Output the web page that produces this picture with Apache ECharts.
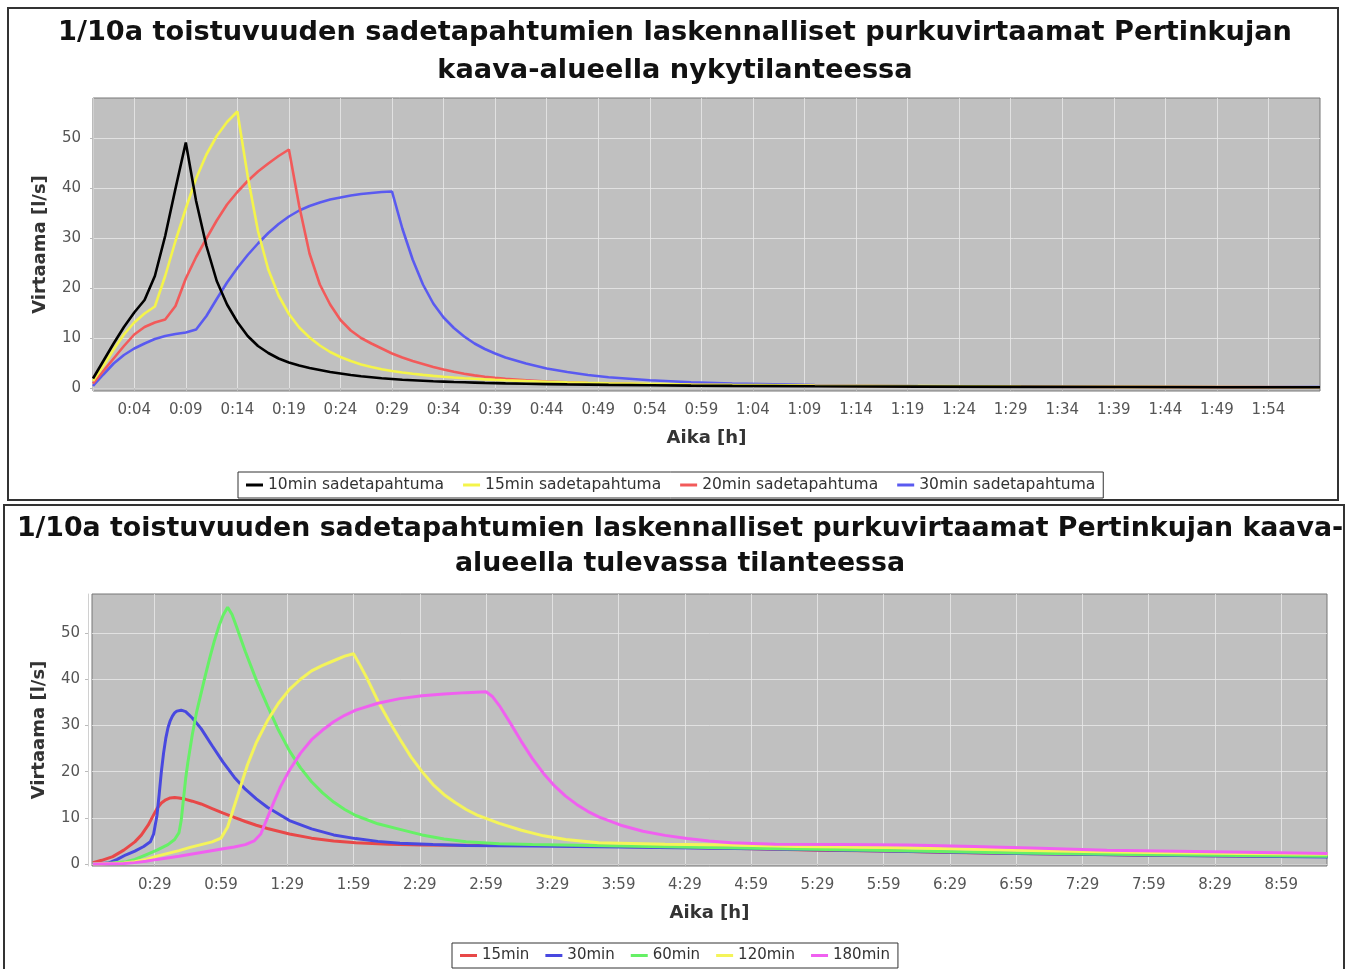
<!DOCTYPE html>
<html>
<head>
<meta charset="utf-8">
<script src="https://cdn.jsdelivr.net/npm/echarts@6.0.0/dist/echarts.min.js"></script>
<style>
  html, body { margin: 0; padding: 0; background: #ffffff; }
  #chart { width: 1349px; height: 969px; }
</style>
</head>
<body>
<div id="chart"></div>
<script>
// ---------- Top chart: nykytilanne (time in minutes) ----------
const topTitle = '1/10a toistuvuuden sadetapahtumien laskennalliset purkuvirtaamat Pertinkujan\nkaava-alueella nykytilanteessa';
const topNames = ['10min sadetapahtuma', '15min sadetapahtuma', '20min sadetapahtuma', '30min sadetapahtuma'];
const topTimes = [0,1,2,3,4,5,6,7,8,9,10,11,12,13,14,15,16,17,18,19,20,21,22,23,24,25,26,27,28,29,30,31,32,33,34,35,36,37,38,39,40,42,44,46,48,50,54,58,62,70,80,90,100,110,119];
const top10 = [2.0,5.5,9.0,12.3,15.2,17.7,22.5,30.5,40.0,49.2,37.5,28.5,21.5,16.8,13.3,10.5,8.5,7.1,6.0,5.2,4.6,4.1,3.7,3.3,3.0,2.7,2.45,2.25,2.05,1.9,1.75,1.65,1.55,1.45,1.38,1.3,1.24,1.18,1.12,1.07,1.02,0.95,0.88,0.82,0.77,0.72,0.65,0.58,0.53,0.45,0.38,0.33,0.29,0.26,0.24];
const top15 = [1.5,4.5,7.8,10.8,13.2,15.0,16.4,22.5,29.5,36.0,42.0,46.8,50.5,53.3,55.4,42.5,31.5,23.8,18.6,14.9,12.2,10.2,8.6,7.3,6.3,5.5,4.8,4.3,3.85,3.5,3.2,2.95,2.72,2.52,2.35,2.2,2.06,1.94,1.83,1.73,1.64,1.48,1.35,1.24,1.14,1.06,0.92,0.81,0.72,0.58,0.47,0.39,0.33,0.29,0.26];
const top20 = [1.0,3.5,6.0,8.5,10.8,12.3,13.2,13.8,16.5,22.0,26.3,30.0,33.6,36.8,39.3,41.5,43.4,45.0,46.5,47.8,36.5,27.0,20.8,16.8,13.7,11.6,10.1,9.0,8.0,7.0,6.2,5.5,4.9,4.3,3.8,3.35,2.95,2.62,2.35,2.12,1.93,1.62,1.4,1.22,1.08,0.98,0.84,0.74,0.66,0.54,0.45,0.37,0.32,0.28,0.25];
const top30 = [0.5,2.8,5.0,6.7,8.0,9.0,9.9,10.5,10.9,11.2,11.8,14.5,17.9,21.2,24.1,26.7,29.0,31.1,32.9,34.4,35.6,36.5,37.2,37.8,38.2,38.6,38.9,39.1,39.3,39.4,32.0,25.8,20.8,17.0,14.2,12.1,10.4,9.0,7.9,7.0,6.2,5.0,4.0,3.3,2.7,2.25,1.65,1.25,0.98,0.68,0.5,0.4,0.34,0.3,0.27];
const topXTicks = [4,9,14,19,24,29,34,39,44,49,54,59,64,69,74,79,84,89,94,99,104,109,114];
const yTicks = [0,10,20,30,40,50];

// ---------- Bottom chart: tuleva tilanne (time in minutes) ----------
const botTitle = '1/10a toistuvuuden sadetapahtumien laskennalliset purkuvirtaamat Pertinkujan kaava-\nalueella tulevassa tilanteessa';
const botNames = ['15min', '30min', '60min', '120min', '180min'];
const t15 = [1,5,10,15,20,23,26,28,30,32,34,36,38,40,43,46,50,55,60,65,70,75,80,90,100,110,120,135,150,180,210,240,270,300,330,360,390,420,450,480,510,540,560];
const v15 = [0.3,0.8,1.6,3.0,4.8,6.3,8.4,10.2,12.0,13.2,13.9,14.3,14.4,14.3,14.0,13.6,13.0,12.0,11.0,10.1,9.2,8.4,7.7,6.5,5.6,5.0,4.6,4.3,4.1,4.0,4.0,3.8,3.6,3.3,3.0,2.8,2.5,2.3,2.1,1.9,1.8,1.7,1.6];
const t30 = [1,8,12,16,20,24,27,28.5,30,31,32,33,34,35,36,37,38,39,41,43,46,50,55,60,65,70,75,80,90,100,110,120,130,140,155,170,200,240,300,360,420,480,560];
const v30 = [0,0.2,1.0,2.0,2.8,3.8,4.8,6.5,10.5,15.0,20.0,24.0,27.2,29.5,31.0,32.0,32.7,33.1,33.3,33.0,31.6,29.3,25.6,22.0,18.8,16.2,14.1,12.3,9.4,7.6,6.3,5.5,4.9,4.5,4.2,4.0,3.9,3.7,3.3,2.8,2.3,1.9,1.5];
const t60 = [1,10,16,20,25,30,35,38,40,41,42,43,44,46,48,50,52,54,56,58,60,62,64,66,68,70,75,80,85,90,95,100,105,110,115,120,130,140,150,160,170,185,200,240,300,360,420,480,560];
const v60 = [0,0.2,0.5,1.0,2.0,3.0,4.2,5.3,6.8,9.5,14.0,18.5,22.0,28.0,33.0,37.0,41.0,44.8,48.3,51.4,53.9,55.6,54.0,51.4,48.7,46.0,39.8,34.3,29.0,24.5,20.8,17.8,15.4,13.4,11.8,10.5,8.7,7.5,6.3,5.4,4.8,4.4,4.2,3.9,3.4,2.9,2.4,2.0,1.7];
const t120 = [1,15,20,25,30,35,40,45,50,55,59,62,65,68,71,75,80,85,90,95,100,105,110,115,119,122,125,130,135,140,145,150,155,160,165,170,175,185,195,205,215,230,260,290,320,360,390,420,450,480,520,560];
const v120 = [0,0.2,0.5,1.0,1.7,2.3,2.9,3.6,4.2,4.8,5.6,8.0,12.5,17.0,21.5,26.3,31.0,34.8,37.8,40.0,41.8,43.0,44.0,45.0,45.5,43.0,40.3,35.3,31.0,27.0,23.2,20.0,17.2,15.0,13.3,11.8,10.6,8.8,7.3,6.1,5.3,4.6,4.3,4.1,3.8,3.6,3.3,3.0,2.7,2.5,2.3,2.1];
const t180 = [1,15,20,25,30,40,50,60,65,70,74,77,80,83,86,90,95,100,105,110,115,120,130,140,150,160,170,179,182,185,190,195,200,205,210,215,220,225,230,240,250,260,270,280,290,310,340,370,400,430,460,500,560];
const v180 = [0,0.1,0.3,0.6,1.0,1.7,2.5,3.3,3.7,4.2,5.0,6.5,10.0,13.5,16.8,20.3,24.0,26.9,29.0,30.8,32.2,33.3,34.8,35.8,36.4,36.8,37.1,37.3,36.2,34.3,30.5,26.5,22.8,19.6,16.9,14.7,12.9,11.4,10.2,8.4,7.1,6.2,5.5,5.0,4.6,4.3,4.2,4.1,3.8,3.4,3.0,2.7,2.3];
const botXTicks = [29,59,89,119,149,179,209,239,269,299,329,359,389,419,449,479,509,539];

// ---------- Build ----------
const FONT = 'DejaVu Sans';
function pairs(ts, vs) { return ts.map((t, i) => [t, vs[i]]); }
function hm(v) {
  const h = Math.floor(v / 60);
  const m = Math.round(v - h * 60);
  return h + ':' + (m < 10 ? '0' : '') + m;
}
function xAxisCfg(gridIndex, min, max, ticks) {
  return {
    type: 'value', gridIndex, min, max, offset: 4,
    name: 'Aika [h]', nameLocation: 'middle', nameGap: 34,
    nameTextStyle: { fontFamily: FONT, fontWeight: 'bold', fontSize: 18, color: '#333' },
    axisLine: { show: true, lineStyle: { color: '#d0d0d0', width: 1 } },
    axisTick: { show: true, length: 3, customValues: ticks, lineStyle: { color: '#bbb' } },
    axisLabel: { customValues: ticks, formatter: hm, margin: 8, fontFamily: FONT, fontSize: 15, color: '#555' },
    splitLine: { show: true, lineStyle: { color: 'rgba(232,232,232,0.8)', width: 1 } }
  };
}
function yAxisCfg(gridIndex, min, max) {
  return {
    type: 'value', gridIndex, min, max, offset: 4,
    name: 'Virtaama [l/s]', nameLocation: 'middle', nameGap: 40,
    nameTextStyle: { fontFamily: FONT, fontWeight: 'bold', fontSize: 18, color: '#333' },
    axisLine: { show: true, lineStyle: { color: '#d0d0d0', width: 1 } },
    axisTick: { show: true, length: 3, customValues: yTicks, lineStyle: { color: '#bbb' } },
    axisLabel: { customValues: yTicks, margin: 8, fontFamily: FONT, fontSize: 15, color: '#555' },
    splitLine: { show: true, lineStyle: { color: 'rgba(232,232,232,0.8)', width: 1 } }
  };
}
const topColors = ['#000000', '#f4f44a', '#f25a5a', '#5a5af0'];
const botColors = ['#e84848', '#4848e0', '#66f066', '#f4f45a', '#f060f0'];
const topData = [top10, top15, top20, top30];
const botT = [t15, t30, t60, t120, t180];
const botV = [v15, v30, v60, v120, v180];

const series = [];
topNames.forEach((n, i) => series.push({
  name: n, type: 'line', xAxisIndex: 0, yAxisIndex: 0, symbol: 'none',
  color: topColors[i], lineStyle: { width: 2.6, color: topColors[i] },
  data: pairs(topTimes, topData[i]), z: 10 - i
}));
botNames.forEach((n, i) => series.push({
  name: n, type: 'line', xAxisIndex: 1, yAxisIndex: 1, symbol: 'none',
  color: botColors[i], lineStyle: { width: 3, color: botColors[i] },
  data: pairs(botT[i], botV[i])
}));

const chart = echarts.init(document.getElementById('chart'), null, { renderer: 'canvas' });
chart.setOption({
  animation: false,
  backgroundColor: '#ffffff',
  title: [
    { text: topTitle, left: 670, top: 9, textAlign: 'center',
      textStyle: { fontFamily: FONT, fontWeight: 'bold', fontSize: 27.2, lineHeight: 38, color: '#111' } },
    { text: botTitle, left: 675, top: 507, textAlign: 'center',
      textStyle: { fontFamily: FONT, fontWeight: 'bold', fontSize: 26.8, lineHeight: 35, color: '#111' } }
  ],
  legend: [
    { data: topNames, left: 238, top: 472, orient: 'horizontal', icon: 'rect', itemWidth: 17, itemHeight: 3,
      itemGap: 19, padding: [5, 8], borderColor: '#333', borderWidth: 1, backgroundColor: '#fff',
      textStyle: { fontFamily: FONT, fontSize: 15.5, color: '#333' } },
    { data: botNames, left: 452, top: 943, orient: 'horizontal', icon: 'rect', itemWidth: 17, itemHeight: 3,
      itemGap: 16, padding: [5, 8], borderColor: '#333', borderWidth: 1, backgroundColor: '#fff',
      textStyle: { fontFamily: FONT, fontSize: 15, color: '#333' } }
  ],
  grid: [
    { left: 93, top: 98, width: 1227, height: 293, show: true, backgroundColor: '#c0c0c0', borderColor: '#777', borderWidth: 1 },
    { left: 92, top: 594, width: 1235, height: 272, show: true, backgroundColor: '#c0c0c0', borderColor: '#777', borderWidth: 1 }
  ],
  xAxis: [ xAxisCfg(0, 0, 119, topXTicks), xAxisCfg(1, 0.6, 559.7, botXTicks) ],
  yAxis: [ yAxisCfg(0, -0.5, 58.1), yAxisCfg(1, -0.43, 58.45) ],
  graphic: [
    { type: 'rect', shape: { x: 8, y: 8, width: 1330, height: 492 }, style: { fill: 'none', stroke: '#333', lineWidth: 2 }, silent: true },
    { type: 'rect', shape: { x: 4, y: 505, width: 1340, height: 470 }, style: { fill: 'none', stroke: '#333', lineWidth: 2 }, silent: true }
  ],
  series
});
</script>
</body>
</html>
